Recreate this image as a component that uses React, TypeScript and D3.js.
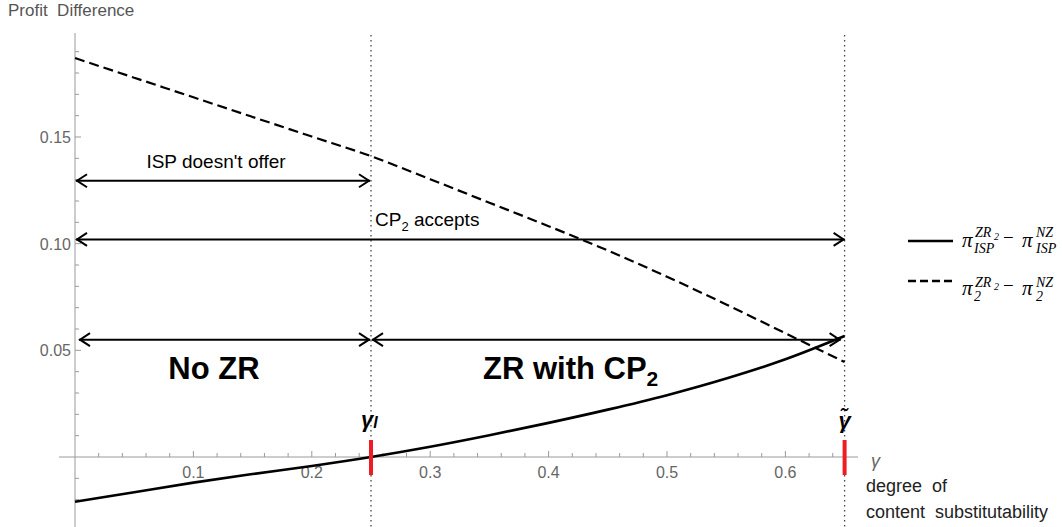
import React from "react";
import * as d3 from "d3";

const gammaGrid = [0, 0.05, 0.1, 0.15, 0.2, 0.25, 0.3, 0.35, 0.4, 0.45, 0.5, 0.55, 0.6, 0.65];
const ispDiff = [-0.021, -0.0165, -0.012, -0.008, -0.0042, 0, 0.0048, 0.0102, 0.016, 0.0222, 0.029, 0.0368, 0.0458, 0.0567];
const cp2Diff = [0.187, 0.1778, 0.1686, 0.1594, 0.1502, 0.141, 0.1302, 0.1192, 0.1082, 0.0968, 0.0845, 0.0715, 0.058, 0.0445];
const xTickLabels = [0.1, 0.2, 0.3, 0.4, 0.5, 0.6];
const yTickLabels = [0.05, 0.1, 0.15];
const gammaL = 0.25;
const gammaTilde = 0.65;
const arrowISP = 0.1295;
const arrowCP2 = 0.102;
const arrowZR = 0.055;

const W = 1062, H = 527;
const x = d3.scaleLinear().domain([0, 0.65]).range([75, 844.6]);
const y = d3.scaleLinear().domain([0, 0.15]).range([457, 137]);

export default function App() {
  const solidPts = gammaGrid.map((g, i) => [g, ispDiff[i]] as [number, number]);
  const dashPts = gammaGrid.map((g, i) => [g, cp2Diff[i]] as [number, number]);
  const line = d3.line<[number, number]>().x(d => x(d[0])).y(d => y(d[1])).curve(d3.curveMonotoneX);

  const xMinor = d3.range(1, 33).map(i => i * 0.02);
  const yMinor = d3.range(-2, 20).map(i => i * 0.01);
  const axisCol = "#9a9a9a";
  const sans = "'Liberation Sans', Arial, sans-serif";
  const serif = "'Liberation Serif', 'DejaVu Serif', serif";

  const arrow = (x1: number, x2: number, yy: number, key: string) => (
    <g key={key} stroke="#000" strokeWidth={2} fill="none">
      <line x1={x1} x2={x2} y1={yy} y2={yy} />
      <path d={`M ${x1 + 11} ${yy - 6.5} L ${x1 + 1} ${yy} L ${x1 + 11} ${yy + 6.5}`} />
      <path d={`M ${x2 - 11} ${yy - 6.5} L ${x2 - 1} ${yy} L ${x2 - 11} ${yy + 6.5}`} />
    </g>
  );

  const legendLabel = (sub: string, tx: number, base: number, supBase: number, subBase: number) => {
    const t = (s: string, xx: number, yy: number, fs: number, italic = true) => (
      <text x={xx} y={yy} fontFamily={serif} fontStyle={italic ? "italic" : "normal"} fontSize={fs} fill="#000">{s}</text>
    );
    return (
      <g>
        {t("π", tx, base, 21)}
        {t("ZR", tx + 13, supBase, 14)}
        {t("2", tx + 32, supBase + 3, 10)}
        {t(sub, tx + 12, subBase, 14)}
        {t("−", tx + 41, base - 3, 19, false)}
        {t("π", tx + 60, base, 21)}
        {t("NZ", tx + 74, supBase, 14)}
        {t(sub, tx + 74, subBase, 14)}
      </g>
    );
  };

  return (
    <svg width={W} height={H} style={{ position: "absolute", left: 0, top: 0, background: "#fff" }}>
      {/* axes */}
      <line x1={59} x2={858} y1={y(0)} y2={y(0)} stroke={axisCol} strokeWidth={1} />
      <line x1={x(0)} x2={x(0)} y1={33} y2={527} stroke={axisCol} strokeWidth={1} />
      {xMinor.map((v, i) => {
        const major = Math.abs(v * 10 - Math.round(v * 10)) < 1e-6;
        return <line key={"xt" + i} x1={x(v)} x2={x(v)} y1={y(0)} y2={y(0) - (major ? 6 : 4)} stroke={axisCol} />;
      })}
      {yMinor.map((v, i) => {
        if (Math.abs(v) < 1e-9) return null;
        const major = Math.abs(v * 20 - Math.round(v * 20)) < 1e-6;
        return <line key={"yt" + i} x1={x(0)} x2={x(0) + (major ? 6 : 4)} y1={y(v)} y2={y(v)} stroke={axisCol} />;
      })}
      {xTickLabels.map(v => (
        <text key={"xl" + v} x={x(v)} y={y(0) + 21} textAnchor="middle" fontFamily={sans} fontSize={16} fill="#666">{v.toFixed(1)}</text>
      ))}
      {yTickLabels.map(v => (
        <text key={"yl" + v} x={x(0) - 4} y={y(v) + 6} textAnchor="end" fontFamily={sans} fontSize={16} fill="#666">{v.toFixed(2)}</text>
      ))}
      <text x={8} y={16} fontFamily={sans} fontSize={17} fill="#555" style={{ whiteSpace: "pre" }}>{"Profit  Difference"}</text>
      <text x={871} y={467} fontFamily={sans} fontStyle="italic" fontSize={18} fill="#666">γ</text>
      <text x={866} y={492} fontFamily={sans} fontSize={18} fill="#222" style={{ whiteSpace: "pre" }}>{"degree  of"}</text>
      <text x={866} y={518} fontFamily={sans} fontSize={18} fill="#222" style={{ whiteSpace: "pre" }}>{"content  substitutability"}</text>

      {/* vertical dotted */}
      {[gammaL, gammaTilde].map(g => (
        <line key={"v" + g} x1={x(g)} x2={x(g)} y1={35} y2={527} stroke="#444" strokeWidth={1.3} strokeDasharray="1.5,3.5" />
      ))}

      {/* curves */}
      <path d={line(dashPts) || ""} fill="none" stroke="#000" strokeWidth={2.2} strokeDasharray="10,5" />
      <path d={line(solidPts) || ""} fill="none" stroke="#000" strokeWidth={2.6} />

      {/* arrows */}
      {arrow(x(0) + 1, x(gammaL) - 1, y(arrowISP), "a1")}
      {arrow(x(0) + 1, x(gammaTilde), y(arrowCP2), "a2")}
      {arrow(x(0) + 4, x(gammaL) - 1, y(arrowZR), "a3")}
      {arrow(x(gammaL) + 1, x(gammaTilde) - 4, y(arrowZR), "a4")}

      <text x={216} y={168} textAnchor="middle" fontFamily={sans} fontSize={19} fill="#000">ISP doesn't offer</text>
      <text x={375} y={226} fontFamily={sans} fontSize={19} fill="#000">
        CP<tspan fontSize={13} dy={5}>2</tspan><tspan dy={-5}> accepts</tspan>
      </text>
      <text x={214} y={379} textAnchor="middle" fontFamily={sans} fontWeight="bold" fontSize={31} fill="#000">No ZR</text>
      <text x={483} y={379} fontFamily={sans} fontWeight="bold" fontSize={31} fill="#000">
        ZR with CP<tspan fontSize={21} dy={7}>2</tspan>
      </text>

      {/* red marks */}
      {[gammaL, gammaTilde].map(g => (
        <line key={"r" + g} x1={x(g)} x2={x(g)} y1={440} y2={475} stroke="#ee1c25" strokeWidth={4} />
      ))}
      <text x={x(gammaL) - 10} y={427} fontFamily={sans} fontWeight="bold" fontStyle="italic" fontSize={22} fill="#000">
        γ<tspan fontSize={16} dy={1}>l</tspan>
      </text>
      <text x={x(gammaTilde)} y={428} textAnchor="middle" fontFamily={sans} fontWeight="bold" fontStyle="italic" fontSize={22} fill="#000">γ̃</text>

      {/* legend */}
      <line x1={908} x2={953} y1={241} y2={241} stroke="#000" strokeWidth={2.6} />
      {legendLabel("ISP", 962, 247, 237, 253)}
      <line x1={908} x2={953} y1={281} y2={281} stroke="#000" strokeWidth={2.6} strokeDasharray="8,4" />
      {legendLabel("2", 962, 295, 287, 301)}
    </svg>
  );
}
